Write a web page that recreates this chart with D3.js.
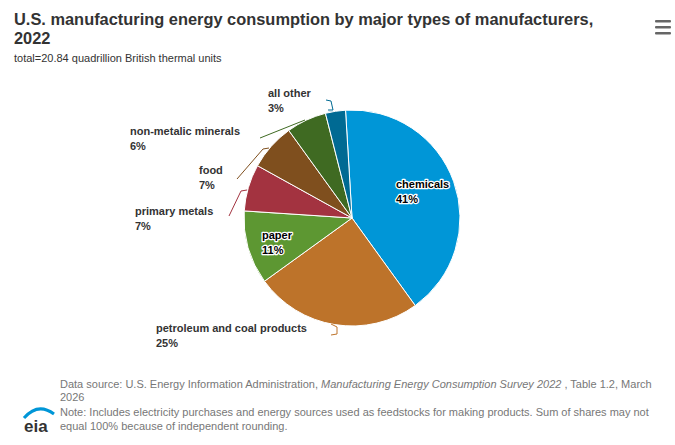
<!DOCTYPE html>
<html><head><meta charset="utf-8">
<script src="https://cdn.jsdelivr.net/npm/d3@7"></script>
<style>body{margin:0;background:#fff;font-family:"Liberation Sans",Arial,sans-serif}</style>
</head><body><svg id="c" width="675" height="445"></svg>
<script>
const categories=["chemicals","petroleum and coal products","paper","primary metals","food","non-metalic minerals","all other"];
const values=[41,25,11,7,7,6,3];
const colors=["#0096d7","#bd732a","#5d9732","#a33340","#7f4f1e","#3f6a22","#006a93"];
const svg=d3.select("#c");
const cx=352,cy=218,r=108;
svg.append("text").attr("x",14).attr("y",25).attr("font-size",16.4).attr("font-weight","bold").attr("fill","#333").text("U.S. manufacturing energy consumption by major types of manufacturers,");
svg.append("text").attr("x",14).attr("y",44).attr("font-size",16.4).attr("font-weight","bold").attr("fill","#333").text("2022");
svg.append("text").attr("x",14).attr("y",62).attr("font-size",11).attr("fill","#333").text("total=20.84 quadrillion British thermal units");
[0,6,12].forEach(d=>svg.append("rect").attr("x",655).attr("y",20+d).attr("width",16).attr("height",2.5).attr("rx",1).attr("fill","#666"));
const data=categories.map((c,i)=>({c,v:values[i],col:colors[i]}));
const pie=d3.pie().value(d=>d.v).sort(null).startAngle(-0.06).endAngle(2*Math.PI-0.06);
const arcs=pie(data);
const arc=d3.arc().innerRadius(0).outerRadius(r);
const g=svg.append("g").attr("transform",`translate(${cx},${cy})`);
g.selectAll("path").data(arcs).join("path").attr("d",arc).attr("fill",d=>d.data.col).attr("stroke","#fff").attr("stroke-width",1);
const inside={0:[396,188],2:[262,239]};
const outside={
 1:{x:156,y:332,pts:[[331,324],[337,327],[337,334],[331,335]]},
 3:{x:135,y:215,pts:[[247,190],[241,191],[229,216]]},
 4:{x:199,y:174,pts:[[269,148],[263,149],[237,179]]},
 5:{x:130,y:135,pts:[[305,120],[300,122],[260,138]]},
 6:{x:268,y:97,pts:[[328,110],[333,110],[331,101],[326,100]]}
};
function lbl(x,y,name,pct,halo){
  const t=svg.append("text").attr("font-size",11).attr("font-weight","bold").attr("fill","#333");
  if(halo){t.attr("fill","#000").attr("stroke","#fff").attr("stroke-width",2.5).attr("paint-order","stroke").attr("stroke-linejoin","round");}
  t.append("tspan").attr("x",x).attr("y",y).text(name);
  t.append("tspan").attr("x",x).attr("y",y+15).text(pct+"%");
}
arcs.forEach((a,i)=>{
  if(inside[i]){lbl(inside[i][0],inside[i][1],a.data.c,a.data.v,true);}
  else{const o=outside[i];
    svg.append("path").attr("d",d3.line()(o.pts)).attr("fill","none").attr("stroke",a.data.col).attr("stroke-width",1);
    lbl(o.x,o.y,a.data.c,a.data.v,false);}
});
const f=svg.append("text").attr("font-size",11).attr("fill","#777");
f.append("tspan").attr("x",60).attr("y",388).text("Data source: U.S. Energy Information Administration, ");
f.append("tspan").attr("font-style","italic").text("Manufacturing Energy Consumption Survey 2022");
f.append("tspan").text(" , Table 1.2, March");
svg.append("text").attr("x",60).attr("y",401).attr("font-size",11).attr("fill","#777").text("2026");
svg.append("text").attr("x",60).attr("y",416).attr("font-size",11).attr("fill","#777").text("Note: Includes electricity purchases and energy sources used as feedstocks for making products. Sum of shares may not");
svg.append("text").attr("x",60).attr("y",430).attr("font-size",11).attr("fill","#777").text("equal 100% because of independent rounding.");
svg.append("path").attr("d","M24,418 Q38,402 54,414").attr("fill","none").attr("stroke","#0096d7").attr("stroke-width",3);
svg.append("text").attr("x",24).attr("y",432).attr("font-size",17).attr("font-weight","bold").attr("fill","#333").text("eia");
</script></body></html>
